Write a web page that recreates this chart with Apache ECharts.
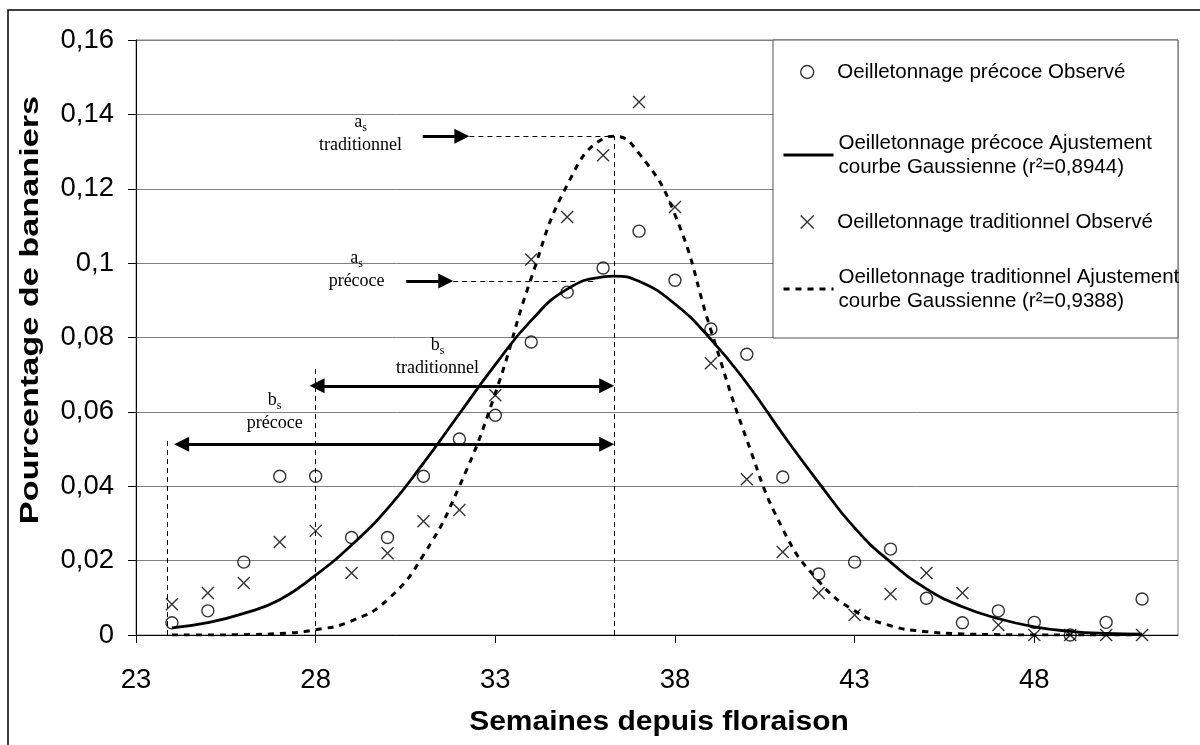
<!DOCTYPE html>
<html>
<head>
<meta charset="utf-8">
<script src="https://cdn.jsdelivr.net/npm/echarts@6/dist/echarts.min.js"></script>
<style>
  html, body { margin: 0; padding: 0; background: #fff; }
  #chart { width: 1200px; height: 745px; }
</style>
</head>
<body>
<div id="chart"></div>
<script>
// observed weeks and values
const weeks = [24, 25, 26, 27, 28, 29, 30, 31, 32, 33, 34, 35, 36, 37, 38, 39, 40, 41, 42, 43, 44, 45, 46, 47, 48, 49, 50, 51]
const precoceObs = [0.0033, 0.0065, 0.0196, 0.0427, 0.0427, 0.0262, 0.0262, 0.0427, 0.0527, 0.0591, 0.0788, 0.0922, 0.0987, 0.1086,
  0.0954, 0.0823, 0.0755, 0.0425, 0.0164, 0.0196, 0.0231, 0.0099, 0.0033, 0.0065, 0.0034, 0, 0.0034, 0.0097]
const tradObs = [0.0083, 0.0113, 0.0140, 0.0250, 0.0280, 0.0167, 0.0220, 0.0306, 0.0336, 0.0645, 0.1010, 0.1124, 0.1290, 0.1433,
  0.1151, 0.0731, 0.0419, 0.0223, 0.0113, 0.0054, 0.0110, 0.0167, 0.0113, 0.0027, 0, 0, 0, 0]

// fitted curves
const fitWeeks = [24, 25, 26, 27, 28, 29, 30, 31, 32, 33, 34, 35, 36, 36.3, 37, 38, 39, 40, 41, 42, 43, 44, 45, 46, 47, 48, 49, 50, 51]
const precoceFit = [0.0019, 0.0033, 0.0058, 0.0095, 0.0161, 0.0242, 0.0340, 0.0462, 0.0595, 0.0727, 0.0846, 0.0930, 0.0963, 0.0965,
  0.0951, 0.0890, 0.0795, 0.0677, 0.0540, 0.0410, 0.0288, 0.0196, 0.0124, 0.0076, 0.0044, 0.0022, 0.0010, 0.0004, 0.0002]
const tradFit = [0, 0, 0.0001, 0.0004, 0.0014, 0.0038, 0.0095, 0.0215, 0.0400, 0.0650, 0.0960, 0.1210, 0.1335, 0.1341,
  0.1295, 0.1130, 0.0820, 0.0525, 0.0285, 0.0145, 0.0065, 0.0025, 0.0009, 0.0003, 0.0001, 0, 0, 0, 0]

const xTicks = [23, 28, 33, 38, 43, 48]
const yTickLabels = ['0', '0,02', '0,04', '0,06', '0,08', '0,1', '0,12', '0,14', '0,16']

const names = [
  'Oeilletonnage précoce Observé',
  'Oeilletonnage précoce Ajustement\ncourbe Gaussienne (r²=0,8944)',
  'Oeilletonnage traditionnel Observé',
  'Oeilletonnage traditionnel Ajustement\ncourbe Gaussienne (r²=0,9388)'
]

const sans = 'Liberation Sans, Arial, sans-serif'
const serif = 'Liberation Serif, Times New Roman, serif'
const cross = 'path://M0,0L10,10M10,0L0,10'
const hollow = { color: 'rgba(0,0,0,0)', borderColor: '#000', borderWidth: 1.4 }

const pairs = (xs, ys) => xs.map((x, i) => [x, ys[i]])

// annotation helpers (data coords)
const thin = { type: [5, 4], width: 1, color: '#000' }
const thick = { type: 'solid', width: 3, color: '#000' }
const seg = (a, b, style, s0, s1) => [
  { coord: a, symbol: s0 || 'none', lineStyle: style },
  { coord: b, symbol: s1 || 'none' }
]
const notes = [
  seg([36.32, 0], [36.32, 0.1341], thin),
  seg([28, 0], [28, 0.0718], thin),
  seg([23.88, 0], [23.88, 0.0524], thin),
  seg([32.28, 0.1341], [36.32, 0.1341], thin),
  seg([31.83, 0.0952], [35.83, 0.0952], thin),
  seg([30.98, 0.1341], [32.07, 0.1341], thick, 'none', 'triangle'),
  seg([30.52, 0.0952], [31.62, 0.0952], thick, 'none', 'triangle'),
  seg([28.04, 0.0670], [36.1, 0.0670], thick, 'triangle', 'triangle'),
  seg([24.27, 0.0513], [36.1, 0.0513], thick, 'triangle', 'triangle')
]
const label = (x, y, sub, word) => ({
  coord: [x, y],
  label: { formatter: '{m|' + sub + '}{s|s}\n{m|' + word + '}' }
})
const texts = [
  label(29.25, 0.1347, 'a', 'traditionnel'),
  label(29.14, 0.0981, 'a', 'précoce'),
  label(31.39, 0.0747, 'b', 'traditionnel'),
  label(26.86, 0.0599, 'b', 'précoce')
]

// one legend per entry so each row sits where the original puts it
const legendItems = [
  { name: names[0], icon: 'circle', itemStyle: hollow },
  { name: names[1], itemStyle: { color: 'rgba(0,0,0,0)', borderWidth: 0 }, lineStyle: { width: 3, type: 'solid', color: '#000' } },
  { name: names[2], icon: cross, itemStyle: hollow },
  {
    name: names[3], itemStyle: { color: 'rgba(0,0,0,0)', borderWidth: 0 }, lineStyle: { width: 3, type: [6, 6], color: '#000' },
    textStyle: { padding: [24, 0, 0, 0] }
  }
]
const legendTops = [60, 131, 210, 253]
const legendLefts = [800, 782, 800, 782]
const legends = legendItems.map((item, i) => ({
  left: legendLefts[i],
  top: legendTops[i],
  orient: 'vertical',
  selectedMode: false,
  padding: 0,
  z: 10,
  itemWidth: 50,
  itemHeight: 13,
  textStyle: { fontFamily: sans, fontSize: 20.5, lineHeight: 24, color: '#000' },
  data: [item]
}))

const chart = echarts.init(document.getElementById('chart'))
chart.setOption({
  animation: false,
  backgroundColor: '#fff',
  textStyle: { fontFamily: sans, color: '#000' },
  grid: { left: 136, right: 22, top: 40, bottom: 110, show: true, borderColor: '#808080', borderWidth: 1 },
  legend: legends,
  xAxis: {
    type: 'value',
    min: 23,
    max: 52,
    axisLine: { onZero: false, lineStyle: { color: '#000', width: 1 } },
    axisTick: { customValues: xTicks, length: 8, lineStyle: { color: '#000' } },
    axisLabel: { customValues: xTicks, fontSize: 27.5, fontFamily: sans, color: '#000', margin: 31 },
    splitLine: { show: false }
  },
  yAxis: {
    type: 'value',
    min: 0,
    max: 0.16,
    interval: 0.02,
    axisLine: { show: true, lineStyle: { color: '#000', width: 1 } },
    axisTick: { show: true, length: 8, lineStyle: { color: '#000' } },
    axisLabel: {
      fontSize: 27.5, fontFamily: sans, color: '#000', margin: 22,
      formatter: v => yTickLabels[Math.round(v / 0.02)]
    },
    splitLine: { lineStyle: { color: '#808080', width: 1 } }
  },
  graphic: [
    { type: 'rect', shape: { x: 8, y: 10, width: 1400, height: 1000 }, style: { fill: 'none', stroke: '#000', lineWidth: 1.5 }, silent: true },
    // legend frame
    { type: 'rect', z: 5, shape: { x: 773, y: 40, width: 405, height: 298 }, style: { fill: '#fff', stroke: '#555', lineWidth: 1 }, silent: true },
    {
      type: 'text', x: 31, y: 310, rotation: Math.PI / 2, scaleX: 1.37, silent: true,
      style: { text: 'Pourcentage de bananiers', font: 'bold 25px ' + sans, fill: '#000', align: 'center', verticalAlign: 'middle' }
    },
    {
      type: 'text', x: 659, y: 722, scaleX: 1.07, silent: true,
      style: { text: 'Semaines depuis floraison', font: 'bold 28px ' + sans, fill: '#000', align: 'center', verticalAlign: 'middle' }
    }
  ],
  series: [
    {
      name: names[0], type: 'scatter', z: 4,
      data: pairs(weeks, precoceObs),
      symbol: 'circle', symbolSize: 12,
      itemStyle: hollow
    },
    {
      name: names[1], type: 'line', z: 3, color: '#000',
      data: pairs(fitWeeks, precoceFit),
      smooth: true, symbol: 'none',
      lineStyle: { color: '#000', width: 2.8 }
    },
    {
      name: names[2], type: 'scatter', z: 4,
      data: pairs(weeks, tradObs),
      symbol: cross, symbolSize: 12,
      itemStyle: hollow
    },
    {
      name: names[3], type: 'line', z: 3, color: '#000',
      data: pairs(fitWeeks, tradFit),
      smooth: true, symbol: 'none',
      lineStyle: { color: '#000', width: 3, type: [6, 6] }
    },
    {
      name: 'notes', type: 'line', data: [], silent: true, z: 2,
      markLine: {
        silent: true, animation: false,
        symbolSize: 15,
        label: { show: false },
        emphasis: { disabled: true },
        data: notes
      },
      markPoint: {
        silent: true, animation: false,
        symbol: 'circle', symbolSize: 1,
        itemStyle: { color: 'rgba(0,0,0,0)' },
        label: {
          show: true, position: 'inside', align: 'center', verticalAlign: 'middle',
          rich: {
            m: { fontFamily: serif, fontSize: 18, lineHeight: 23, color: '#000' },
            s: { fontFamily: serif, fontSize: 12, lineHeight: 23, verticalAlign: 'bottom', color: '#000' }
          }
        },
        data: texts
      }
    }
  ]
})
</script>
</body>
</html>
